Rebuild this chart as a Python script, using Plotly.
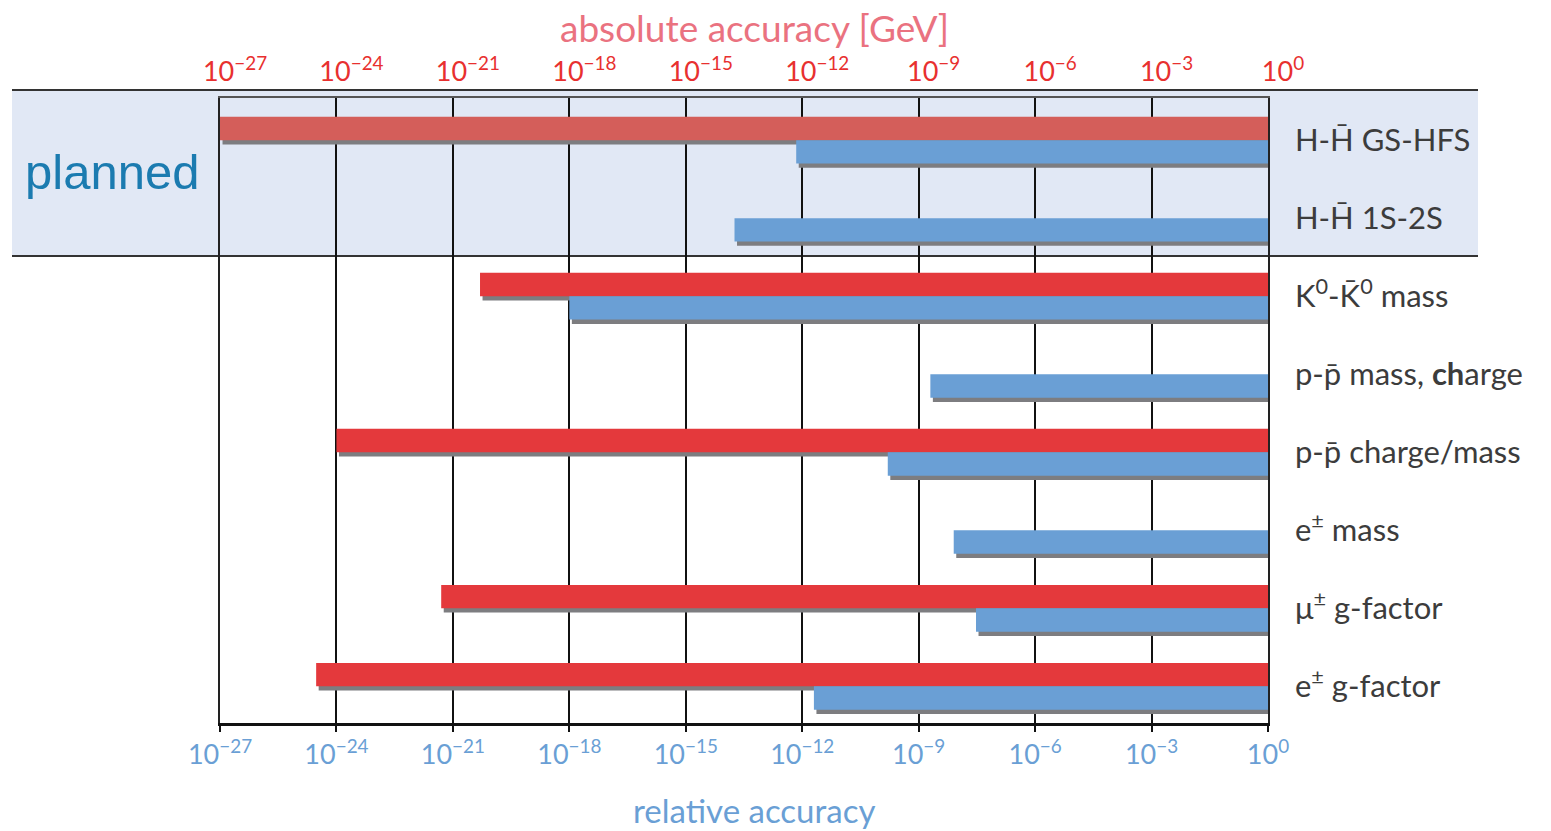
import plotly.graph_objects as go

# ---- data ----
rows = ["H-Hbar GS-HFS", "H-Hbar 1S-2S", "K0-K0bar mass", "p-pbar mass, charge",
        "p-pbar charge/mass", "e mass", "mu g-factor", "e g-factor"]
row_labels = ["H-H\u0304 GS-HFS", "H-H\u0304 1S-2S", "K<sup>0</sup>-K\u0304<sup>0</sup> mass",
              "p-p\u0304 mass, <b>ch</b>arge", "p-p\u0304 charge/mass", "e<sup>\u00b1</sup> mass",
              "\u03bc<sup>\u00b1</sup> g-factor", "e<sup>\u00b1</sup> g-factor"]
planned = [True, True, False, False, False, False, False, False]
# absolute accuracy [GeV] (red), relative accuracy (blue); None = not shown
absolute_acc = [1e-27, None, 5e-21, None, 1e-24, None, 5e-22, 3e-25]
relative_acc = [7e-13, 1.8e-14, 1e-18, 2e-9, 1.6e-10, 8e-9, 3e-8, 2e-12]
tick_exps = [-27, -24, -21, -18, -15, -12, -9, -6, -3, 0]

RED = "#e4393c"
RED_PLANNED = "#d45e5a"
BLUE = "#6a9fd5"
SHADOW = "#7d7d80"
W = 0.30
SH_Y = 0.055
SH_X = 10 ** 0.065

fig = go.Figure()

def pts(vals):
    ys, xs = [], []
    for r, v in zip(rows, vals):
        if v is not None:
            ys.append(r); xs.append(v)
    return ys, xs

ay, ax = pts(absolute_acc)
ry, rx = pts(relative_acc)
acol = [RED_PLANNED if planned[rows.index(r)] else RED for r in ay]

# shadows
fig.add_trace(go.Bar(orientation="h", y=ay, base=[v * SH_X for v in ax], x=[1 - v * SH_X for v in ax],
                     offset=-W + SH_Y, width=W, marker=dict(color=SHADOW, line_width=0),
                     showlegend=False, hoverinfo="skip"))
fig.add_trace(go.Bar(orientation="h", y=ry, base=[v * SH_X for v in rx], x=[1 - v * SH_X for v in rx],
                     offset=SH_Y, width=W, marker=dict(color=SHADOW, line_width=0),
                     showlegend=False, hoverinfo="skip"))
# bars
fig.add_trace(go.Bar(orientation="h", y=ay, base=ax, x=[1 - v for v in ax],
                     offset=-W, width=W, marker=dict(color=acol, line_width=0),
                     name="absolute accuracy", showlegend=False))
fig.add_trace(go.Bar(orientation="h", y=ry, base=rx, x=[1 - v for v in rx],
                     offset=0, width=W, marker=dict(color=BLUE, line_width=0),
                     name="relative accuracy", showlegend=False))
# invisible trace for top axis
fig.add_trace(go.Scatter(x=[1e-27, 1], y=[rows[0], rows[0]], xaxis="x2", mode="markers",
                         marker=dict(opacity=0), showlegend=False, hoverinfo="skip"))

tickvals = [10.0 ** e for e in tick_exps]
ticktext = ["10<sup>\u2212%d</sup>" % (-e) if e < 0 else "10<sup>0</sup>" for e in tick_exps]

L, R, T, B = 220, 283, 98, 108
PW, PH = 1551 - L - R, 831 - T - B

def px(x):
    return (x - L) / PW

def py(y):
    return (831 - B - y) / PH

fig.update_layout(
    width=1551, height=831,
    margin=dict(l=L, r=R, t=T, b=B),
    paper_bgcolor="white", plot_bgcolor="rgba(0,0,0,0)",
    barmode="overlay",
    font=dict(family="Lato", color="#3a3a3a"),
    xaxis=dict(type="log", range=[-27, 0], tickmode="array", tickvals=tickvals, ticktext=ticktext,
               showgrid=True, gridcolor="#111111", gridwidth=1.6,
               showline=True, linecolor="#111111", linewidth=3,
               ticks="outside", ticklen=6, tickwidth=2, tickcolor="#111111",
               tickfont=dict(size=27, color="#6a9fd5", family="Lato"),
               zeroline=False, fixedrange=True),
    xaxis2=dict(type="log", range=[-27, 0], overlaying="x", side="top", anchor="y",
                tickmode="array", tickvals=tickvals, ticktext=ticktext,
                showgrid=False, showline=True, linecolor="#555555", linewidth=2,
                ticks="", ticklabelstandoff=4, ticklabelshift=15,
                tickfont=dict(size=27, color="#e8302f", family="Lato"), fixedrange=True),
    yaxis=dict(type="category", categoryorder="array", categoryarray=rows,
               range=[7.47, -0.54], side="right", tickmode="array", tickvals=rows, ticktext=row_labels,
               showgrid=False, showline=True, mirror=True, linecolor="#222222", linewidth=1.5,
               ticks="", ticklabelstandoff=19,
               tickfont=dict(size=31, color="#3c3c3c", family="Lato"), fixedrange=True),
    shapes=[
        dict(type="rect", xref="paper", yref="paper", x0=px(12), x1=px(1478), y0=py(256), y1=py(90),
             fillcolor="#e1e8f5", line_width=0, layer="below"),
        dict(type="line", xref="paper", yref="paper", x0=px(12), x1=px(1478), y0=py(90), y1=py(90),
             line=dict(color="#333333", width=2), layer="below"),
        dict(type="line", xref="paper", yref="paper", x0=px(12), x1=px(1478), y0=py(256), y1=py(256),
             line=dict(color="#333333", width=2), layer="below"),
    ],
    annotations=[
        dict(text="absolute accuracy [GeV]", xref="paper", yref="paper", x=px(754), y=py(28),
             xanchor="center", yanchor="middle",
             showarrow=False, font=dict(size=37, color="#ea7280", family="Lato")),
        dict(text="relative accuracy", xref="paper", yref="paper", x=px(754), y=py(810),
             xanchor="center", yanchor="middle",
             showarrow=False, font=dict(size=33, color="#6a9fd5", family="Lato")),
        dict(text="planned", xref="paper", yref="paper", x=px(112), y=py(172),
             xanchor="center", yanchor="middle",
             showarrow=False, font=dict(size=49, color="#1b7bb0", family="Liberation Sans")),
    ],
)

fig.write_html("out.html", config={"displayModeBar": False},
               post_script="document.body.style.margin='0';")
